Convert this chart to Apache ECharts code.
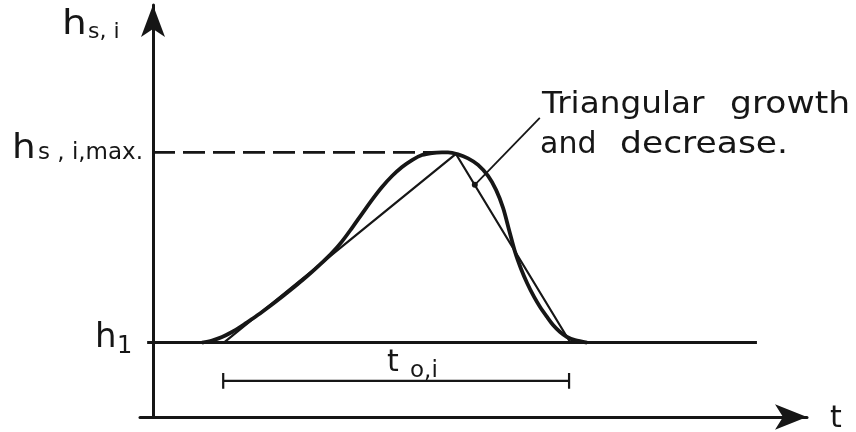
<!DOCTYPE html>
<html>
<head>
<meta charset="utf-8">
<script src="https://cdn.jsdelivr.net/npm/echarts@6/dist/echarts.min.js"></script>
<style>
  html, body { margin: 0; padding: 0; background: #fff; }
  #chart { width: 856px; height: 432px; }
</style>
</head>
<body>
<div id="chart"></div>
<script>
// Storm-surge height h_s,i over time t: smooth pulse and its triangular approximation.
const pulseT = [7.54, 9.08, 10.62, 12.15, 13.69, 15.23, 16.77, 18.31, 19.85, 21.38, 22.92, 24.46, 26.00, 27.54,
  29.08, 30.62, 32.15, 33.69, 35.23, 36.77, 38.31, 39.85, 41.38, 42.92, 44.46, 45.38, 46.92, 48.46, 50.00,
  51.54, 52.77, 53.85, 54.77, 55.69, 56.62, 57.54, 58.62, 59.54, 60.62, 61.54, 62.62, 63.69, 64.92, 66.77];
const pulseH = [18.8, 19.32, 20.20, 21.46, 23.03, 24.75, 26.52, 28.38, 30.33, 32.35, 34.44, 36.64, 38.96, 41.44,
  44.34, 47.75, 51.29, 54.82, 58.06, 60.83, 63.11, 64.87, 66.14, 66.64, 66.79, 66.79, 66.29, 65.28, 63.64,
  60.86, 57.32, 52.78, 47.22, 41.67, 37.37, 33.84, 30.30, 27.78, 25.25, 23.23, 21.46, 20.20, 19.39, 18.8];

// Triangular growth and decrease: start, peak, end
const triangleT = [10.9, 46.6, 64.2];
const triangleH = [18.8, 66.4, 18.8];

// Reference levels
const h1Level = 18.8;
const hMaxLevel = 66.8;
const baseLineT = [-0.9, 92.9];
const maxLineT = [0, 43.5];

// Duration t_o,i shown as a dimension line
const durationT = [10.8, 64.0];
const durationH = 9.1;
const durationTick = 2.0;

// Leader from the note to the falling edge of the triangle
const leaderT = [49.5, 59.5];
const leaderH = [58.6, 75.5];

const ink = '#161616';
const zip = (xs, ys) => xs.map((x, i) => [x, ys[i]]);

const chart = echarts.init(document.getElementById('chart'), null, { renderer: 'canvas' });

const textFont = '"DejaVu Sans", "Liberation Sans", sans-serif';
function label(text, x, y, size, stretch) {
  return {
    type: 'text', x: x, y: y, z: 100, scaleX: stretch || 1,
    style: { text: text, fontSize: size, fontFamily: textFont, fill: ink, align: 'left', verticalAlign: 'middle' }
  };
}

const option = {
  animation: false,
  backgroundColor: '#ffffff',
  grid: { left: 140, right: 49, top: 5, bottom: 15, containLabel: false },
  xAxis: {
    type: 'value', min: -2, max: 100.6,
    axisLine: { show: true, onZero: false, symbol: ['none', 'arrow'], symbolSize: [19, 32],
      lineStyle: { color: ink, width: 3 } },
    axisTick: { show: false }, axisLabel: { show: false }, splitLine: { show: false }
  },
  yAxis: {
    type: 'value', min: 0, max: 104,
    axisLine: { show: true, onZero: true, symbol: ['none', 'arrow'], symbolSize: [18, 32],
      lineStyle: { color: ink, width: 3 } },
    axisTick: { show: false }, axisLabel: { show: false }, splitLine: { show: false }
  },
  series: [
    {
      name: 'h1', type: 'line', symbol: 'none', silent: true,
      data: baseLineT.map(t => [t, h1Level]),
      lineStyle: { color: ink, width: 2.8 }
    },
    {
      name: 'hmax', type: 'line', symbol: 'none', silent: true,
      data: maxLineT.map(t => [t, hMaxLevel]),
      lineStyle: { color: ink, width: 2.8, type: [22, 8] }
    },
    {
      name: 'triangle', type: 'line', symbol: 'none', silent: true,
      data: zip(triangleT, triangleH),
      lineStyle: { color: ink, width: 2.2 }
    },
    {
      name: 'pulse', type: 'line', symbol: 'none', silent: true, smooth: 0.3,
      data: zip(pulseT, pulseH),
      lineStyle: { color: ink, width: 3.8 }
    },
    {
      name: 'duration', type: 'line', symbol: 'none', silent: true,
      data: [
        [durationT[0], durationH - durationTick], [durationT[0], durationH + durationTick],
        [durationT[0], durationH], [durationT[1], durationH],
        [durationT[1], durationH + durationTick], [durationT[1], durationH - durationTick]
      ],
      lineStyle: { color: ink, width: 2.2 }
    },
    {
      name: 'leader', type: 'line', silent: true, showSymbol: true,
      data: [
        { value: [leaderT[0], leaderH[0]], symbol: 'circle', symbolSize: 6 },
        { value: [leaderT[1], leaderH[1]], symbol: 'none' }
      ],
      itemStyle: { color: ink },
      lineStyle: { color: ink, width: 1.8 }
    }
  ],
  graphic: [
    label('h', 62, 25, 34, 1.15), label('s, i', 88, 32, 22),
    label('h', 12, 149, 34, 1.1), label('s , i,max.', 38, 153, 23),
    label('h', 95, 338, 34), label('1', 117, 347, 24),
    label('t', 387, 363, 30), label('o,i', 410, 371, 23),
    label('t', 830, 419, 30),
    label('Triangular', 542, 105, 30, 1.09), label('growth', 730, 105, 30, 1.15),
    label('and', 540, 145, 30), label('decrease.', 620, 145, 30, 1.15)
  ]
};

chart.setOption(option);
</script>
</body>
</html>
